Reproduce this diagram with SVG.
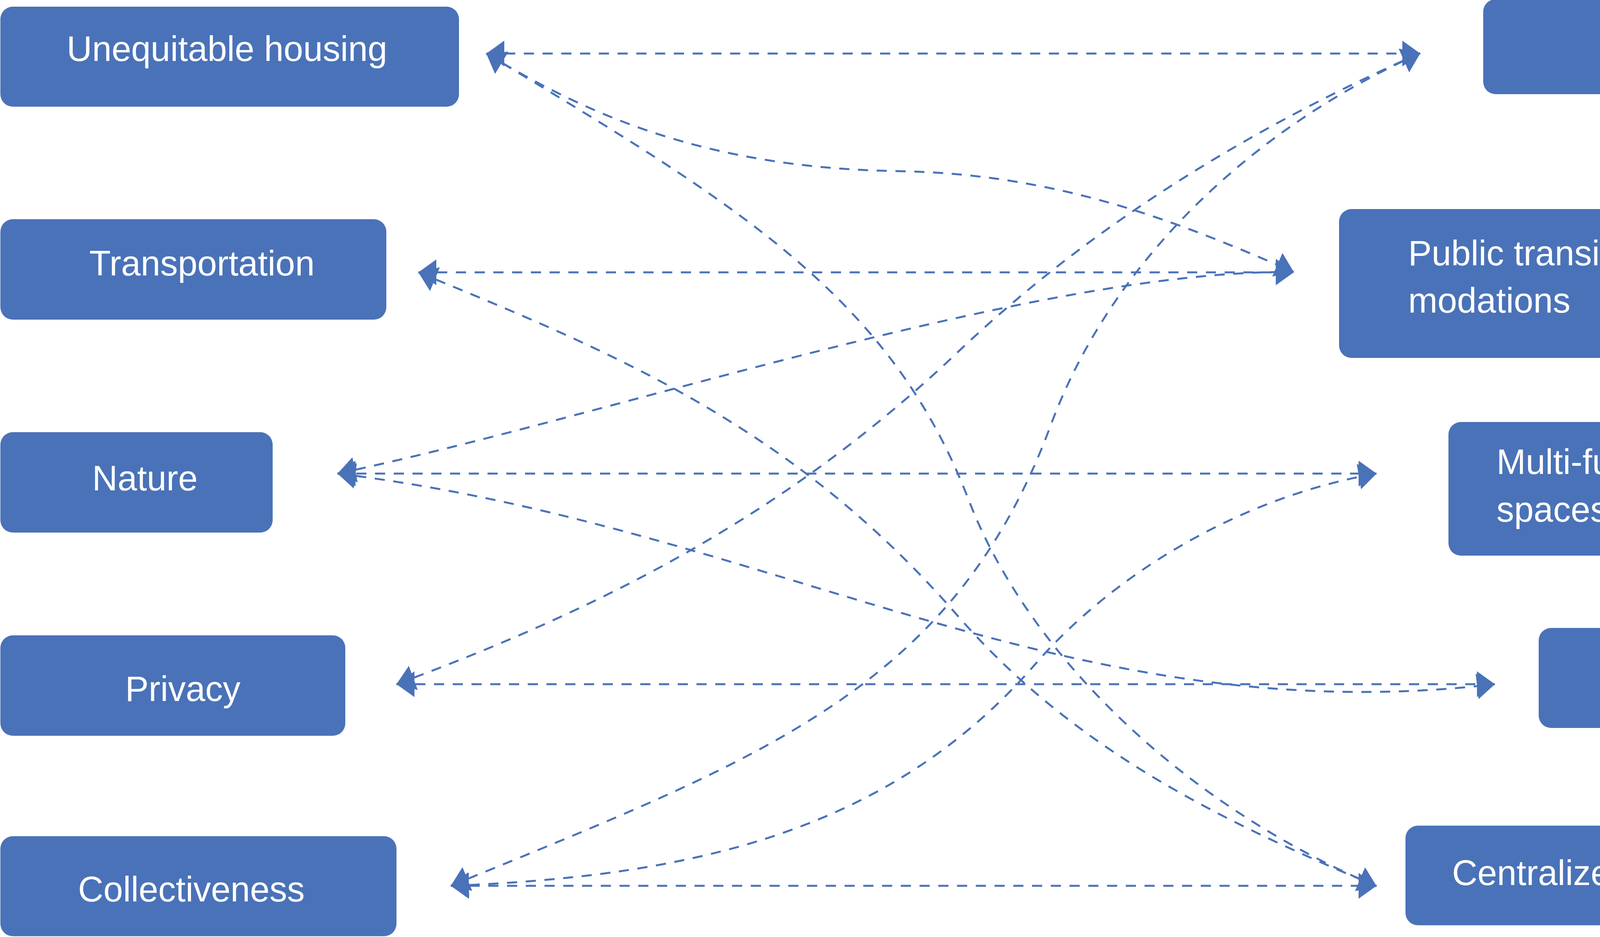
<svg xmlns="http://www.w3.org/2000/svg" width="5102" height="2398" viewBox="0 0 5102 2398">
  <style>
    .box { fill: #4A72B8; }
    .lbl { fill: #FFFFFF; font-family: "Liberation Sans", Arial, sans-serif; font-size: 90px; }
    .mid { text-anchor: middle; }
    .con { fill: none; stroke: #4A72B8; stroke-width: 5; stroke-dasharray: 26 22; marker-start: url(#arr); marker-end: url(#arr); }
  </style>
  <defs>
    <marker id="arr" markerUnits="userSpaceOnUse" markerWidth="48" markerHeight="68" refX="46" refY="33" orient="auto-start-reverse" viewBox="0 0 48 68">
      <path d="M0,0 L46,33 L0,66 Z" fill="#4A72B8"/>
    </marker>
  </defs>
  <rect width="5102" height="2398" fill="#FFFFFF"/>

  <g id="connectors">
    <path class="con" d="M1245,137 H3636"/>
    <path class="con" d="M1245,137 C1500,290 1800,430 2300,438 C2700,445 3000,560 3312,696"/>
    <path class="con" d="M1245,137 C1895,527 2280,760 2480,1280 C2630,1670 3024,2058 3524,2268"/>
    <path class="con" d="M1071,697 H3312"/>
    <path class="con" d="M1071,697 C1571,902 2030,1091 2450,1574 C2750,1919 3124,2100 3524,2268"/>
    <path class="con" d="M864,1212 C1564,1065 2650,690 3312,696"/>
    <path class="con" d="M864,1212 H3524"/>
    <path class="con" d="M864,1212 C1964,1345 2727,1880 3827,1751"/>
    <path class="con" d="M1015,1751 H3827"/>
    <path class="con" d="M1015,1751 C1515,1566 2000,1330 2450,903 C2750,618 3136,356 3636,136"/>
    <path class="con" d="M1154,2267 C1954,1939 2440,1763 2690,1088 C2840,683 3186,338 3636,136"/>
    <path class="con" d="M1154,2267 H3524"/>
    <path class="con" d="M1154,2267 C1754,2243 2270,2137 2650,1700 C2850,1470 3174,1272 3524,1212"/>
  </g>

  <g id="node-unequitable-housing">
    <rect class="box" x="1" y="17" width="1174" height="256" rx="32"/>
    <text class="lbl mid" x="581" y="156">Unequitable housing</text>
  </g>
  <g id="node-transportation">
    <rect class="box" x="1" y="561" width="988" height="257" rx="32"/>
    <text class="lbl mid" x="517" y="705">Transportation</text>
  </g>
  <g id="node-nature">
    <rect class="box" x="1" y="1106" width="697" height="257" rx="32"/>
    <text class="lbl mid" x="371" y="1255">Nature</text>
  </g>
  <g id="node-privacy">
    <rect class="box" x="1" y="1626" width="883" height="257" rx="32"/>
    <text class="lbl mid" x="468" y="1794">Privacy</text>
  </g>
  <g id="node-collectiveness">
    <rect class="box" x="1" y="2140" width="1014" height="256" rx="32"/>
    <text class="lbl mid" x="490" y="2307">Collectiveness</text>
  </g>

  <g id="node-need-based">
    <rect class="box" x="3797" y="-2" width="1304" height="243" rx="32"/>
    <text class="lbl mid" x="4500" y="141">Need-based</text>
  </g>
  <g id="node-public-transit">
    <rect class="box" x="3428" y="535" width="1673" height="381" rx="32"/>
    <text class="lbl" x="3605" y="679">Public transit + non-vehicular acco-</text>
    <text class="lbl" x="3605" y="800">modations</text>
  </g>
  <g id="node-multi-functional">
    <rect class="box" x="3708" y="1080" width="1393" height="342" rx="32"/>
    <text class="lbl" x="3831" y="1213">Multi-functional courtyard</text>
    <text class="lbl" x="3831" y="1335">spaces</text>
  </g>
  <g id="node-perforated-envelope">
    <rect class="box" x="3939" y="1607" width="1162" height="256" rx="32"/>
    <text class="lbl mid" x="4514" y="1760">Perforated envelope</text>
  </g>
  <g id="node-centralized">
    <rect class="box" x="3598" y="2113" width="1503" height="255" rx="32"/>
    <text class="lbl mid" x="4320" y="2265">Centralized communal spaces</text>
  </g>
</svg>
